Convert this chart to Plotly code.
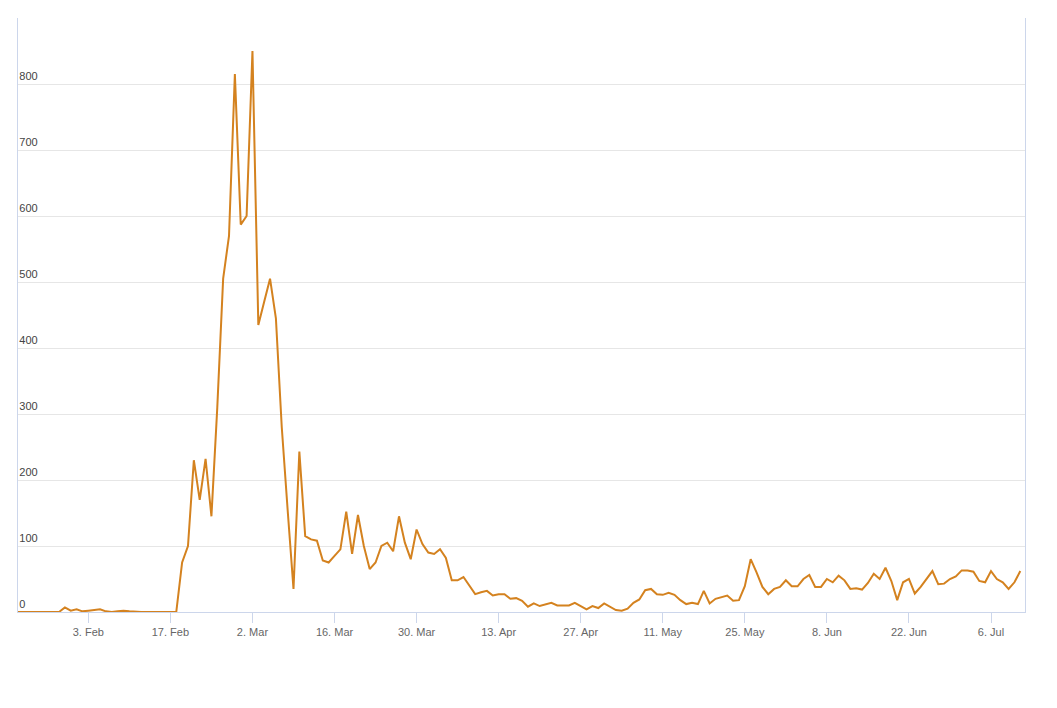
import plotly.graph_objects as go
import pandas as pd

start = "2020-01-22"
values = [0,0,1,0,0,0,0,0,7,2,4,1,2,3,4,1,0,1,2,1,0,0,0,0,1,1,1,
          0,75,100,230,170,232,145,310,505,570,815,587,600,850,435,470,505,445,280,155,35,243,115,
          110,108,78,75,85,95,152,88,147,100,65,75,100,105,92,145,105,80,125,103,
          90,88,95,82,48,48,53,40,27,30,32,25,27,27,20,21,17,8,13,9,
          11,14,10,10,10,14,9,4,9,6,13,8,3,2,5,14,19,33,35,27,
          26,29,26,18,12,14,12,32,13,20,23,25,17,18,39,80,60,38,27,35,
          38,48,39,39,50,56,38,38,50,45,55,48,35,36,34,44,58,50,67,47,
          18,45,50,28,38,50,62,42,43,50,54,63,63,61,47,45,62,50,45,35,45,62]
dates = pd.date_range(start, periods=len(values), freq="D")
tick_dates = pd.date_range("2020-02-03", "2020-07-06", freq="14D")
tick_labels = [f"{d.day}. {d.strftime('%b')}" for d in tick_dates]

fig = go.Figure(go.Scatter(x=dates, y=values, mode="lines",
                           line=dict(color="#d4821f", width=2), cliponaxis=False))
x0 = pd.Timestamp(start)
x1 = x0 + pd.Timedelta(days=171.8)
fig.update_layout(
    width=1057, height=708,
    margin=dict(l=10, r=40, t=10, b=104, pad=0, autoexpand=False),
    plot_bgcolor="white", paper_bgcolor="white", showlegend=False,
    font=dict(family="Liberation Sans, Arial", size=11, color="#666666"),
    xaxis=dict(range=[x0, x1], tickvals=tick_dates, ticktext=tick_labels,
               showgrid=False, ticks="outside", ticklen=10, tickcolor="#ccd6eb",
               showline=True, linecolor="#ccd6eb", mirror=False, zeroline=False,
               automargin=False),
    yaxis=dict(range=[0, 900], dtick=100, gridcolor="#e6e6e6",
               ticklabelposition="inside top", zeroline=False, automargin=False,
               showline=True, linecolor="#ccd6eb", mirror=True),
)
fig.write_html("out.html")
